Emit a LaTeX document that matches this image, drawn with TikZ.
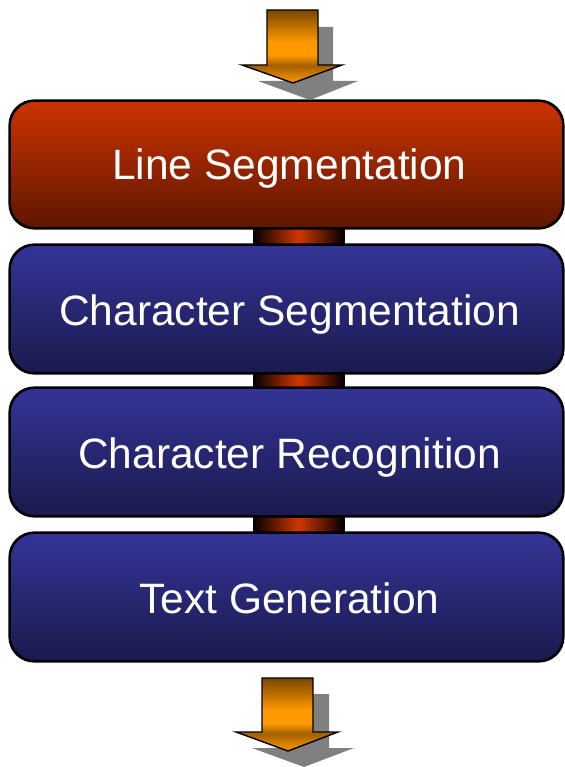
\documentclass[tikz,border=0pt]{standalone}
\usepackage{fontspec}
\setmainfont{Liberation Sans}
\definecolor{redtop}{HTML}{CC3300}
\definecolor{redbot}{HTML}{5E1600}
\definecolor{bluetop}{HTML}{343497}
\definecolor{bluebot}{HTML}{1A1A4E}
\definecolor{linkred}{HTML}{D23600}
\definecolor{amber}{HTML}{FF9900}
\definecolor{amberdark}{HTML}{7A4600}
\definecolor{amberhead}{HTML}{E88A00}
% orange fill of the flow arrows (0bp = bottom, 100bp = top)
\pgfdeclareverticalshading{orangeflow}{100bp}{
  color(0bp)=(amberhead);
  color(28bp)=(amberhead);
  color(37bp)=(amberdark!70!amber);
  color(44bp)=(amber);
  color(53bp)=(amber);
  color(75bp)=(amberdark);
  color(100bp)=(amberdark)}
\tikzset{
  stage/.style={rounded corners=25pt, draw=black, line width=1.6pt,
    minimum width=553pt, inner sep=0pt},
  redstage/.style={stage, top color=redtop, bottom color=redbot},
  bluestage/.style={stage, top color=bluetop, bottom color=bluebot},
  stagelabel/.style={text=white, anchor=base, inner sep=0pt,
    font=\fontsize{42.5}{50}\selectfont},
  linkbar/.style={draw=black, line width=1pt, minimum width=91pt,
    inner sep=0pt, left color=black, right color=black, middle color=linkred},
  flowarrow/.style={draw=black, line width=1.4pt, shading=orangeflow},
  arrowshadow/.style={fill=gray}
}
\begin{document}
\begin{tikzpicture}[x=1pt,y=-1pt]
  \useasboundingbox (0,0) rectangle (564,767);

  % stages
  \node[redstage, minimum height=127pt] (s1) at (286.5,164.5) {};
  \node[bluestage, minimum height=128pt] (s2) at (286.5,309) {};
  \node[bluestage, minimum height=128pt] (s3) at (286.5,452) {};
  \node[bluestage, minimum height=128pt] (s4) at (286.5,597) {};

  % links between stages
  \node[linkbar, minimum height=16pt] (l12) at (298.5,236.5) {};
  \node[linkbar, minimum height=15pt] (l23) at (298.5,380.5) {};
  \node[linkbar, minimum height=15pt] (l34) at (298.5,524.5) {};
  \foreach \n in {s1,s2,s3,s4}{\draw[line width=1.6pt, rounded corners=25pt] (\n.south west) rectangle (\n.north east);}

  % stage labels
  \node[stagelabel] (t1) at (289.5,180) {Line Segmentation};
  \node[stagelabel] (t2) at (289.5,325.5) {Character Segmentation};
  \node[stagelabel] (t3) at (289.5,468.5) {Character Recognition};
  \node[stagelabel] (t4) at (289.5,613) {Text Generation};

  % input arrow with its shadow
  \fill[arrowshadow] (283,27) -- (333,27) -- (333,81) -- (358,81) -- (310,100) -- (258,81) -- (283,81) -- cycle;
  \path[flowarrow] (267,10) -- (318,10) -- (318,65) -- (342,65) -- (293,83) -- (242,65) -- (267,65) -- cycle;
  \coordinate (inTip) at (293,83);

  % output arrow with its shadow
  \fill[arrowshadow] (278,694) -- (329,694) -- (329,748) -- (354,748) -- (304,767) -- (252,748) -- (278,748) -- cycle;
  \path[flowarrow] (262,678) -- (313,678) -- (313,732) -- (338,732) -- (288,751) -- (236,732) -- (262,732) -- cycle;
  \coordinate (outTip) at (288,751);
\end{tikzpicture}
\end{document}
